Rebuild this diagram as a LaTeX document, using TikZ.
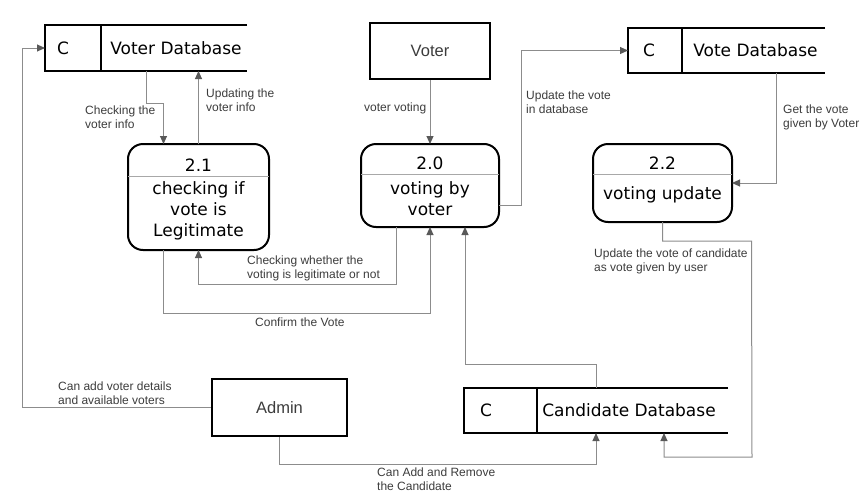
\documentclass[tikz,border=0pt]{standalone}
\usepackage{fontspec}
\setmainfont{Liberation Sans}
\newfontfamily\dejavu{DejaVu Sans}
\usetikzlibrary{arrows.meta}
\definecolor{linegrey}{HTML}{8C8C8C}
\definecolor{tipgrey}{HTML}{595959}
\definecolor{textgrey}{HTML}{3C3C3C}
\definecolor{divgrey}{HTML}{A8A8A8}
\tikzset{
  entity/.style={draw, line width=2.5pt, minimum width=120pt, minimum height=56pt, font=\fontsize{16.5}{19}\selectfont, text=textgrey},
  proc/.style={draw, line width=2pt, rounded corners=15pt, outer sep=0pt},
  pid/.style={font=\dejavu\fontsize{17}{20}\selectfont, inner sep=0pt},
  ptext/.style={font=\dejavu\fontsize{17}{21}\selectfont, align=center, inner sep=0pt},
  store/.style={inner sep=0pt, outer sep=0pt},
  stext/.style={font=\dejavu\fontsize{17}{20}\selectfont, inner sep=0pt},
  sline/.style={line width=1.2pt},
  div/.style={draw=divgrey, line width=1pt},
  flow/.style={draw=linegrey, line width=1pt, -{Triangle[length=8pt,width=7pt,color=tipgrey]}},
  lbl/.style={font=\fontsize{12}{14}\selectfont, text=textgrey, align=left, inner sep=0pt, anchor=west},
}
\begin{document}
\begin{tikzpicture}[x=1pt, y=-1pt]
    \useasboundingbox (0,0) rectangle (868,501);
    \node[store, minimum width=202pt, minimum height=46pt] (vdb) at (146,48) {};
    \node[stext] (vdbc) at (63,48) {C};
    \node[stext] (vdbn) at (176,48) {Voter Database};
    \node[store, minimum width=197pt, minimum height=45pt] (vtdb) at (726.5,50.5) {};
    \node[stext] (vtdbc) at (649,50.5) {C};
    \node[stext] (vtdbn) at (755.5,50.5) {Vote Database};
    \node[store, minimum width=264pt, minimum height=45pt] (cdb) at (596,410.5) {};
    \node[stext] (cdbc) at (486,410.5) {C};
    \node[stext] (cdbn) at (629,410.5) {Candidate Database};
    \node[entity] (voter) at (430,51) {Voter};
    \node[entity, minimum width=135pt, minimum height=57pt] (admin) at (279.5,407.5) {Admin};
    \node[proc, minimum width=141pt, minimum height=106pt] (p21) at (198.5,197) {};
    \node[proc, minimum width=138pt, minimum height=83pt] (p20) at (430,185.5) {};
    \node[proc, minimum width=139pt, minimum height=78pt] (p22) at (662.5,183) {};
    \node[pid] (p21id) at ([yshift=-21pt]p21.north) {2.1};
    \node[pid] (p20id) at ([yshift=-19pt]p20.north) {2.0};
    \node[pid] (p22id) at ([yshift=-19pt]p22.north) {2.2};
    \node[ptext] (p21t) at ([yshift=-67pt]p21.north) {checking if\\vote is\\Legitimate};
    \node[ptext] (p20t) at ([yshift=-55pt]p20.north) {voting by\\voter};
    \node[ptext] (p22t) at ([yshift=-51pt]p22.north) {voting update};
    \draw[sline] (vdb.north east) -- (vdb.north west) -- (vdb.south west) -- (vdb.south east);
    \draw[sline] ([xshift=56pt]vdb.north west) -- ([xshift=56pt]vdb.south west);
    \draw[sline] (vtdb.north east) -- (vtdb.north west) -- (vtdb.south west) -- (vtdb.south east);
    \draw[sline] ([xshift=54pt]vtdb.north west) -- ([xshift=54pt]vtdb.south west);
    \draw[sline] (cdb.north east) -- (cdb.north west) -- (cdb.south west) -- (cdb.south east);
    \draw[sline] ([xshift=73pt]cdb.north west) -- ([xshift=73pt]cdb.south west);
    \draw[div] ([yshift=-32pt]p21.north west) -- ([yshift=-32pt]p21.north east);
    \draw[div] ([yshift=-30pt]p20.north west) -- ([yshift=-30pt]p20.north east);
    \draw[div] ([yshift=-30pt]p22.north west) -- ([yshift=-30pt]p22.north east);
    \draw[flow] (vdb.south) -- ++(0,32) -| ([xshift=-35pt]p21.north);
    \draw[flow] (p21.north) -- (p21.north |- vdb.south);
    \draw[flow] (voter.south) -- (p20.north);
    \draw[flow] ([yshift=-20pt]p20.east) -- ++(22,0) |- (vtdb.west);
    \draw[flow] ([xshift=50pt]vtdb.south) |- (p22.east);
    \draw[flow] (p22.south) -- ++(0,19) -| ++(89,0) -- (752,457) -| ([xshift=68pt]cdb.south);
    \draw[flow] ([xshift=-34pt]p20.south) -- ++(0,57) -| (p21.south);
    \draw[flow] ([xshift=-35pt]p21.south) -- ++(0,63) -| (p20.south);
    \draw[flow] (cdb.north) -- ++(0,-24) -| ([xshift=35pt]p20.south);
    \draw[flow] (admin.west) -| ([xshift=-23pt]vdb.west) -- (vdb.west);
    \draw[flow] (admin.south) -- ++(0,27) -| (cdb.south);
    \node[lbl] (l1) at (85,117) {Checking the\\voter info};
    \node[lbl] (l2) at (206,100) {Updating the\\voter info};
    \node[lbl] (l3) at (364,108) {voter voting};
    \node[lbl] (l4) at (526,102) {Update the vote\\in database};
    \node[lbl] (l5) at (783,117) {Get the vote\\given by Voter};
    \node[lbl] (l6) at (594,261.5) {Update the vote of candidate\\as vote given by user};
    \node[lbl] (l7) at (247,268) {Checking whether the\\voting is legitimate or not};
    \node[lbl] (l8) at (255,322) {Confirm the Vote};
    \node[lbl] (l9) at (58,393) {Can add voter details\\and available voters};
    \node[lbl] (l10) at (377,479) {Can Add and Remove\\the Candidate};
\end{tikzpicture}
\end{document}
